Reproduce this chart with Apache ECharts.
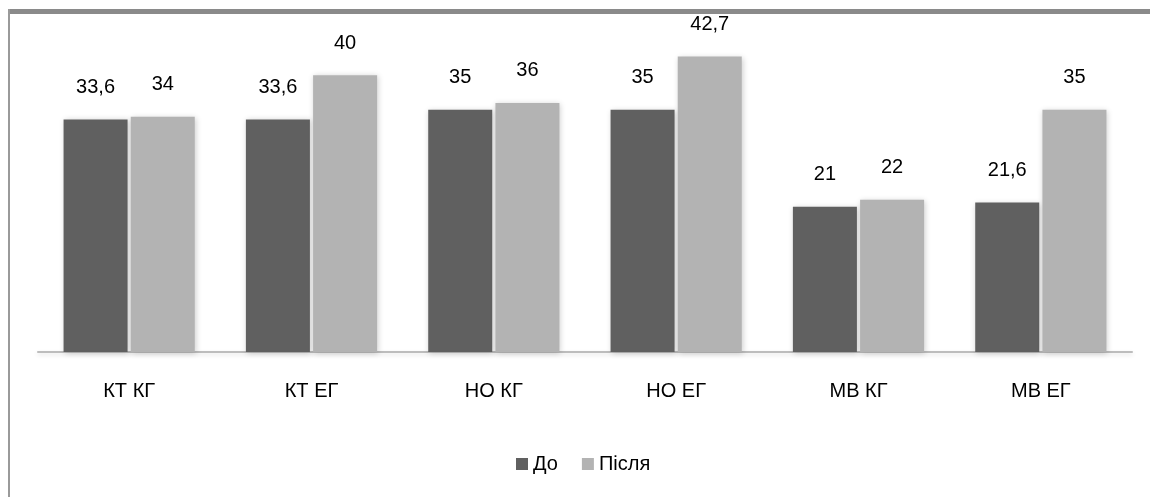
<!DOCTYPE html>
<html>
<head>
<meta charset="utf-8">
<script src="https://cdn.jsdelivr.net/npm/echarts@6/dist/echarts.min.js"></script>
<style>
html,body{margin:0;padding:0;background:#fff;}
#chart{width:1150px;height:497px;}
</style>
</head>
<body>
<div id="chart"></div>
<script>
const categories = ['КТ КГ', 'КТ ЕГ', 'НО КГ', 'НО ЕГ', 'МВ КГ', 'МВ ЕГ'];
const seriesNames = ['До', 'Після'];
const before = [33.6, 33.6, 35, 35, 21, 21.6];
const after = [34, 40, 36, 42.7, 22, 35];

const chart = echarts.init(document.getElementById('chart'));
const fontFamily = '"Liberation Sans", Arial, sans-serif';
const labelFmt = p => String(p.value).replace('.', ',');
const barShadow = { shadowBlur: 6, shadowColor: 'rgba(0,0,0,0.2)', shadowOffsetX: 1, shadowOffsetY: 1 };

chart.setOption({
  animation: false,
  backgroundColor: '#ffffff',
  textStyle: { fontFamily: fontFamily },
  graphic: [
    { type: 'rect', shape: { x: 8, y: 9, width: 1142, height: 5 }, style: { fill: '#8a8a8a' }, z: 10 },
    { type: 'rect', shape: { x: 8, y: 9, width: 2, height: 488 }, style: { fill: '#9a9a9a' }, z: 10 }
  ],
  legend: {
    data: seriesNames,
    left: 511,
    top: 449,
    itemWidth: 12,
    itemHeight: 12,
    itemGap: 24,
    textStyle: { fontSize: 20, color: '#000', fontFamily: fontFamily },
    icon: 'rect'
  },
  grid: { left: 38, right: 18, top: 6, bottom: 145 },
  xAxis: {
    type: 'category',
    data: categories,
    axisLine: { lineStyle: { color: '#bdbdbd', width: 2, shadowBlur: 4, shadowColor: 'rgba(0,0,0,0.12)', shadowOffsetY: 2 } },
    axisTick: { show: false },
    axisLabel: { fontSize: 20, color: '#000', margin: 29, fontFamily: fontFamily }
  },
  yAxis: {
    type: 'value',
    min: 0,
    max: 50,
    show: false,
    splitLine: { show: false }
  },
  series: [
    {
      name: seriesNames[0],
      type: 'bar',
      data: before,
      barWidth: 64,
      barGap: '5%',
      itemStyle: Object.assign({ color: '#606060' }, barShadow),
      label: { show: true, position: 'top', distance: 22, fontSize: 20, color: '#000', formatter: labelFmt, fontFamily: fontFamily }
    },
    {
      name: seriesNames[1],
      type: 'bar',
      data: after,
      barWidth: 64,
      barGap: '5%',
      itemStyle: Object.assign({ color: '#b3b3b3' }, barShadow),
      label: { show: true, position: 'top', distance: 22, fontSize: 20, color: '#000', formatter: labelFmt, fontFamily: fontFamily }
    }
  ]
});
</script>
</body>
</html>
